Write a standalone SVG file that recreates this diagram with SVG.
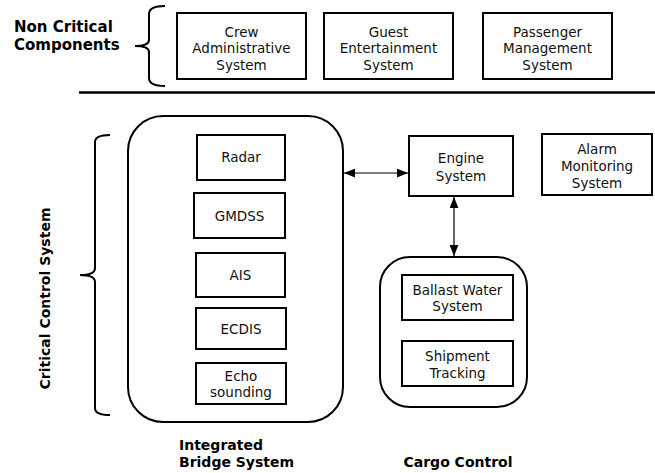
<svg xmlns="http://www.w3.org/2000/svg" width="655" height="473" viewBox="0 0 655 473">
<style>
.box{fill:#fff;stroke:#000;stroke-width:2}
.grp{fill:none;stroke:#000;stroke-width:2}
.t{font-family:"DejaVu Sans",sans-serif;font-size:13.5px;fill:#111;text-anchor:middle}
.b{font-family:"DejaVu Sans",sans-serif;font-size:14px;font-weight:bold;fill:#000}
.b15{font-size:15px}
.br{fill:none;stroke:#000;stroke-width:2}
.ln{stroke:#000;stroke-width:1.2;fill:none}
</style>
<defs>
<marker id="ah" viewBox="0 0 10 8" refX="10" refY="4" markerWidth="11" markerHeight="9" markerUnits="userSpaceOnUse" orient="auto-start-reverse">
<path d="M0,0 L10,4 L0,8 Z" fill="#000"/>
</marker>
</defs>
<rect width="655" height="473" fill="#fff"/>

<g id="label-noncritical">
<text class="b b15" x="14" y="32">Non Critical</text>
<text class="b b15" x="14" y="50">Components</text>
<path class="br" d="M165,6 Q149,6 149,14 L149,40 Q149,46 135,46 Q149,46 149,52 L149,78 Q149,86 165,86"/>
</g>

<g id="crew"><rect class="box" x="177" y="13" width="129" height="66"/>
<text class="t" x="241.5" y="37">Crew</text><text class="t" x="241.5" y="53">Administrative</text><text class="t" x="241.5" y="70">System</text></g>
<g id="guest"><rect class="box" x="324" y="13" width="129" height="66"/>
<text class="t" x="388.5" y="37">Guest</text><text class="t" x="388.5" y="53">Entertainment</text><text class="t" x="388.5" y="70">System</text></g>
<g id="passenger"><rect class="box" x="483" y="13" width="129" height="66"/>
<text class="t" x="547.5" y="37">Passenger</text><text class="t" x="547.5" y="53">Management</text><text class="t" x="547.5" y="70">System</text></g>

<line x1="79" y1="92.5" x2="655" y2="92.5" stroke="#000" stroke-width="2.5"/>

<g id="label-critical">
<text class="b" transform="translate(50,298.5) rotate(-90)" text-anchor="middle">Critical Control System</text>
<path class="br" d="M110,135 Q95,135 95,142 L95,268 Q95,275 80,275 Q95,275 95,282 L95,408 Q95,415 110,415"/>
</g>

<g id="ibs">
<rect class="grp" x="128" y="116" width="215" height="306" rx="35" ry="35"/>
<text class="b" x="179" y="450">Integrated</text>
<text class="b" x="179" y="467">Bridge System</text>
</g>
<g id="radar"><rect class="box" x="197" y="135" width="88" height="45"/><text class="t" x="241" y="162">Radar</text></g>
<g id="gmdss"><rect class="box" x="194" y="193" width="91" height="45"/><text class="t" x="239.5" y="221">GMDSS</text></g>
<g id="ais"><rect class="box" x="196" y="253" width="89" height="44"/><text class="t" x="240.5" y="280">AIS</text></g>
<g id="ecdis"><rect class="box" x="196" y="308" width="90" height="41"/><text class="t" x="241" y="334">ECDIS</text></g>
<g id="echo"><rect class="box" x="196" y="363" width="90" height="41"/><text class="t" x="241" y="381">Echo</text><text class="t" x="241" y="397">sounding</text></g>

<g id="engine"><rect class="box" x="409" y="136" width="104" height="60"/><text class="t" x="461" y="163">Engine</text><text class="t" x="461" y="181">System</text></g>
<g id="alarm"><rect class="box" x="542" y="134" width="110" height="61"/><text class="t" x="597" y="154">Alarm</text><text class="t" x="597" y="171">Monitoring</text><text class="t" x="597" y="188">System</text></g>

<g id="cargo">
<rect class="grp" x="380" y="257" width="147" height="150" rx="30" ry="30"/>
<text class="b" x="458" y="467" text-anchor="middle">Cargo Control</text>
</g>
<g id="ballast"><rect class="box" x="402" y="275" width="111" height="45"/><text class="t" x="457.5" y="295">Ballast Water</text><text class="t" x="457.5" y="311">System</text></g>
<g id="shipment"><rect class="box" x="402" y="341" width="111" height="45"/><text class="t" x="457.5" y="361">Shipment</text><text class="t" x="457.5" y="378">Tracking</text></g>

<g id="connectors">
<line class="ln" x1="344" y1="173" x2="408" y2="173" marker-start="url(#ah)" marker-end="url(#ah)"/>
<line class="ln" x1="454" y1="197" x2="454" y2="256" marker-start="url(#ah)" marker-end="url(#ah)"/>
</g>
</svg>
